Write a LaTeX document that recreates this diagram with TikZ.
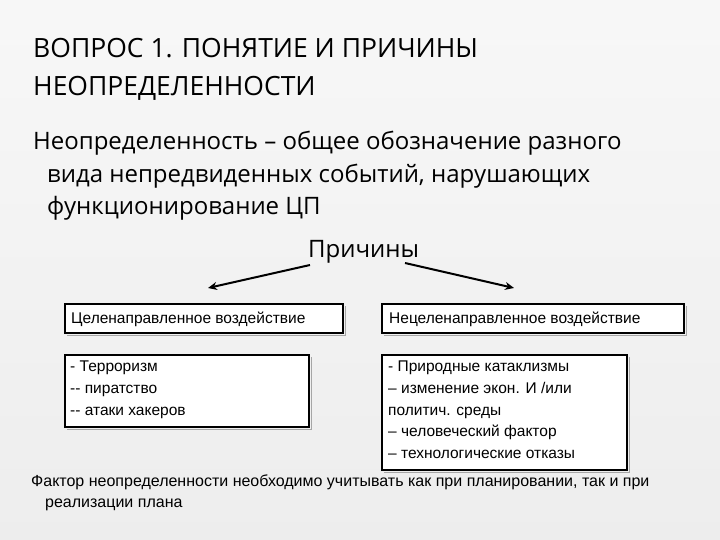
\documentclass[tikz,border=0pt]{standalone}
\usepackage{fontspec}
\setmainfont{Open Sans}
\newfontfamily\narrow{Liberation Sans}
\usetikzlibrary{arrows.meta}
\tikzset{
 small/.style={font=\narrow\fontsize{15.5}{21.7}\selectfont,align=left,anchor=north west,inner sep=0pt},
 arr/.style={-{Stealth[length=9pt,width=8pt]},line width=2pt},
 shadow/.style={draw=gray!70,line width=1pt}
}
\begin{document}
\begin{tikzpicture}[x=1pt,y=-1pt]
\useasboundingbox (0,0) rectangle (720,540);
\shade[top color=gray!6,bottom color=gray!14] (0,0) rectangle (720,540);
\node[anchor=north west,align=left,inner sep=0pt,font=\fontsize{26.5}{38}\selectfont] (title) at (33,38) {ВОПРОС 1. ПОНЯТИЕ И ПРИЧИНЫ\\НЕОПРЕДЕЛЕННОСТИ};
\node[anchor=north west,align=justify,inner sep=0pt,text width=657,font=\fontsize{24}{32.5}\selectfont] (def) at (33,131)
 {Неопределенность – общее обозначение разного\\\hspace*{14pt}вида непредвиденных событий, нарушающих\\\hspace*{14pt}функционирование ЦП};
\node[anchor=base west,inner sep=0pt,font=\fontsize{24}{30}\selectfont] (pr) at (308,257) {Причины};
\coordinate (l0) at (310,265); \coordinate (l1) at (208,288);
\coordinate (r0) at (405,263); \coordinate (r1) at (514,288);
\draw[arr] (l0) -- (l1);
\draw[arr] (r0) -- (r1);
\foreach \a/\b/\c/\d in {65/304/343/333, 382/304/684/333, 65/355/309/427, 382/355/627/470}{
 \draw[shadow] (\a+2,\d+2) -- (\c+2,\d+2) -- (\c+2,\b+2);
 \draw[line width=1.2pt,fill=white] (\a,\b) rectangle (\c,\d);
}
\node[small,anchor=base west] (b1) at (71,323) {Целенаправленное воздействие};
\node[small,anchor=base west] (b2) at (389,323) {Нецеленаправленное воздействие};
\node[small] (b3) at (70,361) {- Терроризм\\-- пиратство\\-- атаки хакеров};
\node[small] (b4) at (388,361) {- Природные катаклизмы\\– изменение экон. И /или\\политич. среды\\– человеческий фактор\\– технологические отказы};
\node[small,font=\narrow\fontsize{16}{21}\selectfont] (foot) at (31,475) {Фактор неопределенности необходимо учитывать как при планировании, так и при\\\hspace*{14pt}реализации плана};
\end{tikzpicture}
\end{document}
